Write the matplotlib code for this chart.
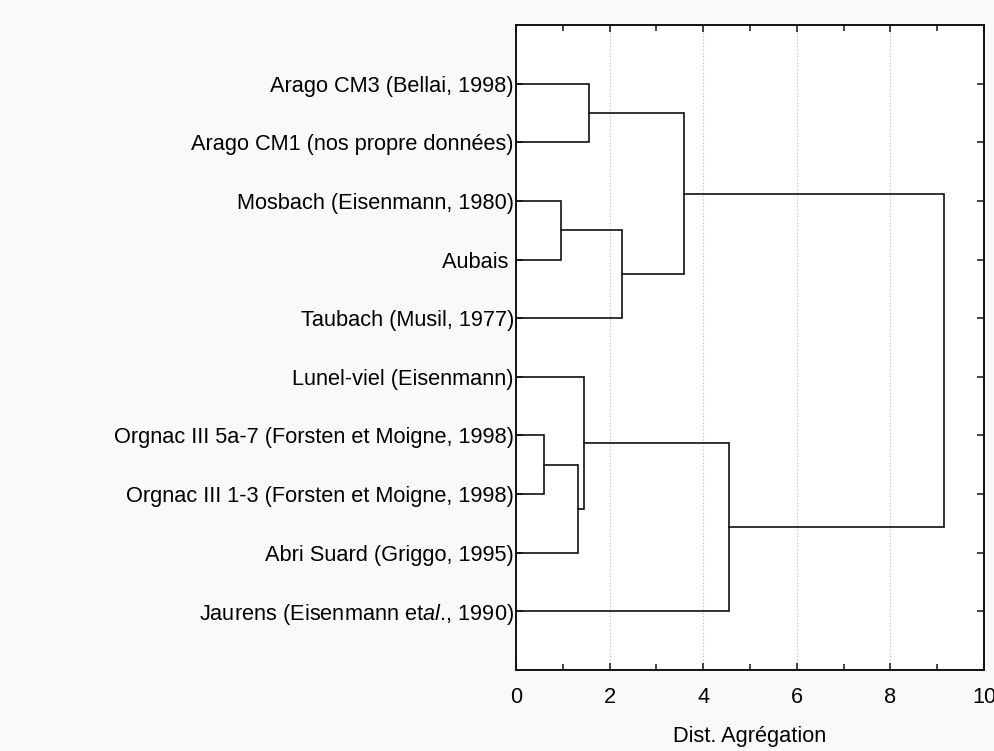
import matplotlib
matplotlib.use("Agg")
import matplotlib.pyplot as plt
from matplotlib.ticker import MultipleLocator

plt.rcParams['font.family'] = ['Liberation Sans', 'DejaVu Sans']
plt.rcParams['mathtext.fontset'] = 'custom'
plt.rcParams['mathtext.rm'] = 'Liberation Sans'
plt.rcParams['mathtext.it'] = 'Liberation Sans:italic'

# Leaf labels, top to bottom
labels = [
    "Arago CM3 (Bellai, 1998)",
    "Arago CM1 (nos propre données)",
    "Mosbach (Eisenmann, 1980)",
    "Aubais ",
    "Taubach (Musil, 1977)",
    "Lunel-viel (Eisenmann)",
    "Orgnac III 5a-7 (Forsten et Moigne, 1998)",
    "Orgnac III 1-3 (Forsten et Moigne, 1998)",
    "Abri Suard (Griggo, 1995)",
    r"Jaurens (Eisenmann et$\mathit{al}$., 1990)",
]

# Merge steps: nodes 0..9 are leaves, each merge creates node 10, 11, ...
merge_left = [6, 2, 10, 5, 0, 11, 14, 13, 16]
merge_right = [7, 3, 8, 12, 1, 4, 15, 9, 17]
merge_height = [0.60, 0.96, 1.33, 1.45, 1.55, 2.26, 3.60, 4.56, 9.15]

x_ticks = [0, 2, 4, 6, 8, 10]
x_label = "Dist. Agrégation"

fs = 15.7
fig = plt.figure(figsize=(9.95, 7.51), dpi=100, facecolor='#f9f9f9')
ax = fig.add_axes([516/995, 1-670/751, (984-516)/995, (670-25)/751])
ax.set_facecolor('white')

n = len(labels)
node_y = {i: i + 1 for i in range(n)}
node_h = {i: 0.0 for i in range(n)}
for k, (l, r, h) in enumerate(zip(merge_left, merge_right, merge_height)):
    yl, yr = node_y[l], node_y[r]
    ax.plot([node_h[l], h, h, node_h[r]], [yl, yl, yr, yr],
            color='#111111', lw=1.2, solid_joinstyle='miter', zorder=3)
    nid = n + k
    node_y[nid] = (yl + yr) / 2
    node_h[nid] = h

ax.set_xlim(0, 10)
ax.set_ylim(n + 1, 0)
ax.set_xticks(x_ticks)
ax.set_xticklabels([str(t) for t in x_ticks])
ax.xaxis.set_minor_locator(MultipleLocator(1))
ax.set_yticks(range(1, n + 1))
ax.set_yticklabels(labels)

ax.grid(axis='x', which='major', linestyle=(0, (1, 2)), color='#bbbbbb', lw=0.8, zorder=0)
for s in ax.spines.values():
    s.set_linewidth(1.4)
    s.set_color('#111111')

ax.tick_params(axis='both', which='both', direction='in', top=True, right=True,
               color='#111111', width=1.1)
ax.tick_params(axis='x', which='major', length=5, pad=12.5, labelsize=fs)
ax.tick_params(axis='x', which='minor', length=4)
ax.tick_params(axis='y', which='major', length=5, pad=1.5, labelsize=fs)
ax.set_xlabel(x_label, fontsize=fs, labelpad=13)

fig.savefig("out.png", dpi=100, facecolor=fig.get_facecolor())
